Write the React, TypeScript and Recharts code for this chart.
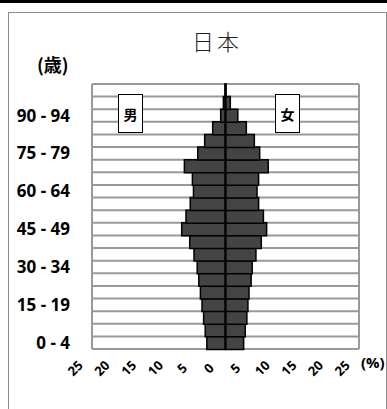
import { Bar, BarChart, CartesianGrid, ReferenceLine, XAxis, YAxis } from 'recharts';

const ages = [
  '0 - 4', '5 - 9', '10 - 14', '15 - 19', '20 - 24', '25 - 29', '30 - 34',
  '35 - 39', '40 - 44', '45 - 49', '50 - 54', '55 - 59', '60 - 64', '65 - 69',
  '70 - 74', '75 - 79', '80 - 84', '85 - 89', '90 - 94', '95 - 99', '100+',
];
const male = [3.5, 3.8, 4.1, 4.4, 4.7, 5.0, 5.3, 5.9, 6.7, 8.2, 7.4, 6.6, 6.0, 6.2, 7.7, 5.2, 3.9, 2.4, 0.9, 0.4, 0.1];
const female = [3.4, 3.7, 4.0, 4.2, 4.4, 4.8, 5.0, 5.7, 6.7, 7.7, 7.1, 6.2, 5.9, 6.2, 8.0, 6.4, 5.4, 3.9, 2.3, 0.9, 0.1];
const xTicks = [-25, -20, -15, -10, -5, 0, 5, 10, 15, 20, 25];

const data = ages.map((age, i) => ({ age, male: -male[i], female: female[i] }));

const numFont = '"Open Sans", Lato, sans-serif';
const cjkFont = '"Noto Sans CJK JP", sans-serif';

function XTick({ x, y, payload }: any) {
  const cx = x - 17;
  const cy = y + 19;
  return (
    <text
      x={cx}
      y={cy}
      transform={`rotate(-45 ${cx} ${cy})`}
      textAnchor="middle"
      dominantBaseline="central"
      fontSize={13}
      fontWeight="bold"
      fontFamily={numFont}
      fill="#000"
    >
      {Math.abs(payload.value)}
    </text>
  );
}

const boxStyle: React.CSSProperties = {
  position: 'absolute',
  top: 94,
  width: 23,
  height: 37,
  border: '1.5px solid #000',
  background: '#fff',
  display: 'flex',
  alignItems: 'center',
  justifyContent: 'center',
  fontFamily: cjkFont,
  fontWeight: 700,
  fontSize: 14,
};

export default function App() {
  const n = ages.length;
  return (
    <div style={{ position: 'absolute', left: 0, top: 0, width: 387, height: 409, background: '#fff', overflow: 'hidden' }}>
      <div style={{ position: 'absolute', left: 0, top: 0, width: 387, height: 3, background: '#000' }} />
      <div style={{ position: 'absolute', left: 8, top: 12, width: 377, height: 420, border: '1px solid #8c8c8c' }} />
      <BarChart
        width={387}
        height={409}
        data={data}
        layout="vertical"
        stackOffset="sign"
        barCategoryGap={0}
        margin={{ top: 84, right: 28, bottom: 30, left: 0 }}
        style={{ position: 'absolute', left: 0, top: 0 }}
      >
        <CartesianGrid
          stroke="#999"
          strokeWidth={2}
          horizontalCoordinatesGenerator={({ offset }: any) =>
            Array.from({ length: n + 1 }, (_, i) => offset.top + (i * offset.height) / n)
          }
          verticalCoordinatesGenerator={({ offset }: any) => [offset.left, offset.left + offset.width]}
        />
        <XAxis
          type="number"
          domain={[-25, 25]}
          ticks={xTicks}
          height={30}
          axisLine={false}
          tickLine={false}
          tickSize={0}
          tickMargin={0}
          tick={<XTick />}
          interval={0}
        />
        <YAxis
          type="category"
          dataKey="age"
          reversed
          width={92}
          axisLine={false}
          tickLine={false}
          tickSize={0}
          tickMargin={22}
          interval={2}
          tick={{ fill: '#000', fontSize: 17, fontWeight: 'bold', fontFamily: numFont }}
        />
        <Bar dataKey="male" stackId="a" fill="#444" stroke="#000" strokeWidth={1.5} isAnimationActive={false} />
        <Bar dataKey="female" stackId="a" fill="#444" stroke="#000" strokeWidth={1.5} isAnimationActive={false} />
        <ReferenceLine x={0} stroke="#000" strokeWidth={2} />
      </BarChart>
      <div style={{ position: 'absolute', left: 192, top: 25, fontFamily: cjkFont, fontWeight: 300, fontSize: 22, letterSpacing: 3, color: '#222', lineHeight: '30px' }}>
        日本
      </div>
      <div style={{ position: 'absolute', left: 37, top: 51, fontFamily: cjkFont, fontWeight: 700, fontSize: 18, lineHeight: '26px' }}>
        (歳)
      </div>
      <div style={{ position: 'absolute', left: 361, top: 352, fontFamily: numFont, fontWeight: 700, fontSize: 15, lineHeight: '20px' }}>
        (%)
      </div>
      <div style={{ ...boxStyle, left: 118 }}>男</div>
      <div style={{ ...boxStyle, left: 275 }}>女</div>
    </div>
  );
}
